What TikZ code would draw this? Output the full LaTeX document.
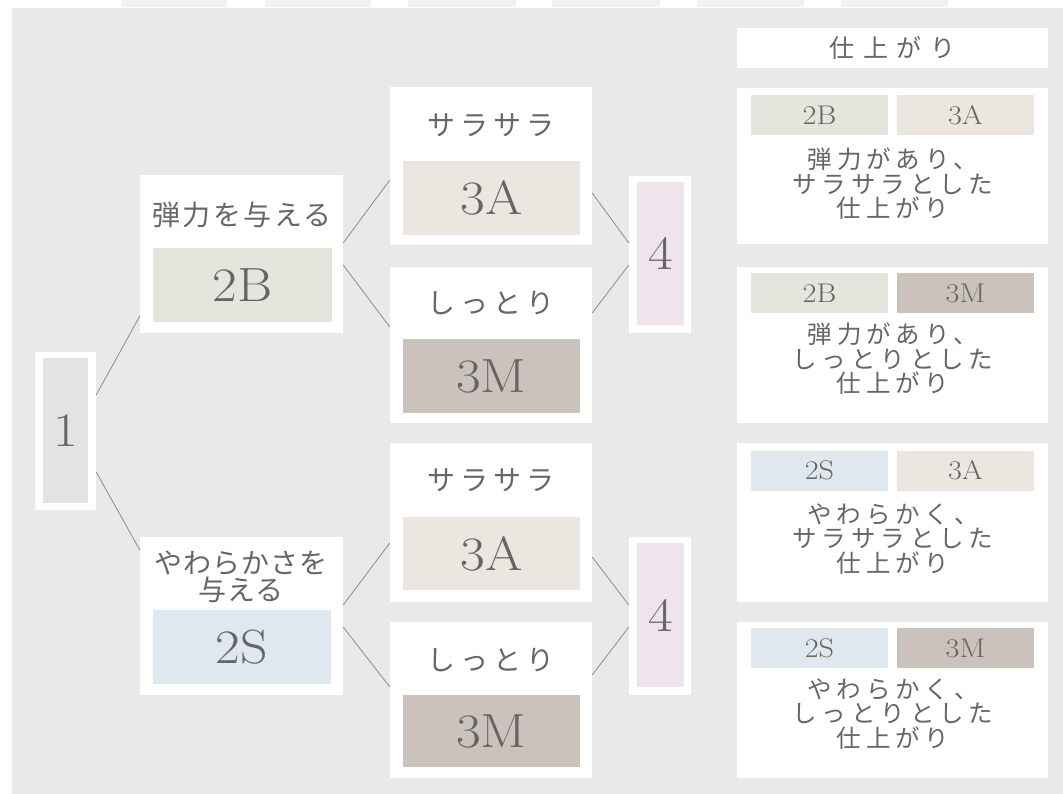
\documentclass[tikz,border=0pt]{standalone}
\usepackage{fontspec}
\newfontfamily\jp{Noto Sans CJK JP}
\newfontfamily\numfont{Latin Modern Roman}[FakeStretch=1.12]
\definecolor{bg}{HTML}{E9E9E9}
\definecolor{tab}{HTML}{F2F2F2}
\definecolor{onegray}{HTML}{E3E3E3}
\definecolor{bgreen}{HTML}{E2E6DC}
\definecolor{sbeige}{HTML}{EBE6DF}
\definecolor{mtaupe}{HTML}{CBC3BB}
\definecolor{sblue}{HTML}{DFE8EE}
\definecolor{fpink}{HTML}{F0E4EC}
\definecolor{numtext}{HTML}{656565}
\definecolor{jptext}{HTML}{666666}
\definecolor{linec}{HTML}{8C8C8C}
\begin{document}
\begin{tikzpicture}[x=1pt,y=-1pt,
  outer/.style={fill=white, inner sep=0pt, draw=none},
  inner/.style={inner sep=0pt, draw=none, text=numtext},
  big/.style={font=\numfont\fontsize{48}{48}\selectfont},
  chip/.style={inner sep=0pt, draw=none, text=numtext, minimum width=137pt, minimum height=40pt, font=\numfont\fontsize{27}{27}\selectfont},
  lab/.style={text=jptext, inner sep=0pt, align=center},
  toplab/.style={lab, font=\jp\addfontfeature{LetterSpace=19}\fontsize{28}{28}\selectfont},
  sidelab/.style={lab, font=\jp\addfontfeature{LetterSpace=20}\fontsize{24.5}{24.5}\selectfont},
  conn/.style={draw=linec, line width=0.8pt}
]
\useasboundingbox (0,0) rectangle (1063,794);
\fill[white] (0,0) rectangle (1063,794);
\fill[bg] (12,8) rectangle (1063,794);
\foreach \a/\b in {122/227,265/371,408/516,552/660,697/804,841/948}
  \fill[tab] (\a,0) rectangle (\b,7);

% column 1
\node[outer, minimum width=61pt, minimum height=158pt] (n1) at (65.5,431) {};
\node[inner, fill=onegray, minimum width=45pt, minimum height=145pt, big] (n1in) at (65.5,430.5) {1};

% column 2
\node[outer, minimum width=203pt, minimum height=158pt] (b2B) at (241.5,254) {};
\node[lab, font=\jp\addfontfeature{LetterSpace=9}\fontsize{28}{28}\selectfont] (l2B) at (242,215) {弾力を与える};
\node[inner, fill=bgreen, minimum width=179pt, minimum height=74pt, big] (b2Bin) at (242.5,285) {2B};

\node[outer, minimum width=203pt, minimum height=158pt] (b2S) at (241.5,616) {};
\node[lab, font=\jp\addfontfeature{LetterSpace=4}\fontsize{28}{27}\selectfont] (l2S) at (241,577) {やわらかさを\\与える};
\node[inner, fill=sblue, minimum width=178pt, minimum height=74pt, big] (b2Sin) at (242,647) {2S};

% column 3
\node[outer, minimum width=202pt, minimum height=158pt] (a1) at (491,166) {};
\node[toplab] (la1) at (491,125) {サラサラ};
\node[inner, fill=sbeige, minimum width=177pt, minimum height=74pt, big] (a1in) at (491.5,198) {3A};

\node[outer, minimum width=202pt, minimum height=156pt] (m1) at (491,345) {};
\node[toplab] (lm1) at (491,303) {しっとり};
\node[inner, fill=mtaupe, minimum width=177pt, minimum height=74pt, big] (m1in) at (491.5,376) {3M};

\node[outer, minimum width=202pt, minimum height=159pt] (a2) at (491,522.5) {};
\node[toplab] (la2) at (491,480) {サラサラ};
\node[inner, fill=sbeige, minimum width=177pt, minimum height=73pt, big] (a2in) at (491.5,553.5) {3A};

\node[outer, minimum width=202pt, minimum height=156pt] (m2) at (491,700) {};
\node[toplab] (lm2) at (491,660) {しっとり};
\node[inner, fill=mtaupe, minimum width=177pt, minimum height=72pt, big] (m2in) at (491.5,731) {3M};

% column 4
\node[outer, minimum width=62pt, minimum height=157pt] (f1) at (660,254.5) {};
\node[inner, fill=fpink, minimum width=47pt, minimum height=143pt, big] (f1in) at (660.5,253.5) {4};
\node[outer, minimum width=62pt, minimum height=158pt] (f2) at (660,616) {};
\node[inner, fill=fpink, minimum width=47pt, minimum height=144pt, big] (f2in) at (660.5,615) {4};

% connectors
\draw[conn] ([yshift=36pt]n1.east) -- ([yshift=-62pt]b2B.west);
\draw[conn] ([yshift=-41pt]n1.east) -- ([yshift=66pt]b2S.west);
\draw[conn] ([yshift=11pt]b2B.east) -- ([yshift=-14pt]a1.west);
\draw[conn] ([yshift=-11pt]b2B.east) -- ([yshift=18pt]m1.west);
\draw[conn] ([yshift=11pt]b2S.east) -- ([yshift=-20.5pt]a2.west);
\draw[conn] ([yshift=-11pt]b2S.east) -- ([yshift=13pt]m2.west);
\draw[conn] ([yshift=-27pt]a1.east) -- ([yshift=11.5pt]f1.west);
\draw[conn] ([yshift=32pt]m1.east) -- ([yshift=-10.5pt]f1.west);
\draw[conn] ([yshift=-34.5pt]a2.east) -- ([yshift=11pt]f2.west);
\draw[conn] ([yshift=25pt]m2.east) -- ([yshift=-11pt]f2.west);

% right column
\node[outer, minimum width=311pt, minimum height=40pt, text=jptext, font=\jp\addfontfeature{LetterSpace=35}\fontsize{25}{25}\selectfont] (hdr) at (892.5,48) {仕上がり};

\node[outer, minimum width=311pt, minimum height=156pt] (r1) at (892.5,166) {};
\node[chip, fill=bgreen] (r1a) at (819.5,115) {2B};
\node[chip, fill=sbeige] (r1b) at (965.5,115) {3A};
\node[sidelab] (r1t) at (893,184) {弾力があり、\\サラサラとした\\仕上がり};

\node[outer, minimum width=311pt, minimum height=156pt] (r2) at (892.5,345) {};
\node[chip, fill=bgreen] (r2a) at (819.5,293) {2B};
\node[chip, fill=mtaupe] (r2b) at (965.5,293) {3M};
\node[sidelab] (r2t) at (893,359) {弾力があり、\\しっとりとした\\仕上がり};

\node[outer, minimum width=311pt, minimum height=159pt] (r3) at (892.5,522.5) {};
\node[chip, fill=sblue] (r3a) at (819.5,470.5) {2S};
\node[chip, fill=sbeige] (r3b) at (965.5,470.5) {3A};
\node[sidelab] (r3t) at (893,539) {やわらかく、\\サラサラとした\\仕上がり};

\node[outer, minimum width=311pt, minimum height=156pt] (r4) at (892.5,700) {};
\node[chip, fill=sblue] (r4a) at (819.5,648) {2S};
\node[chip, fill=mtaupe] (r4b) at (965.5,648) {3M};
\node[sidelab] (r4t) at (893,714) {やわらかく、\\しっとりとした\\仕上がり};
\end{tikzpicture}
\end{document}
